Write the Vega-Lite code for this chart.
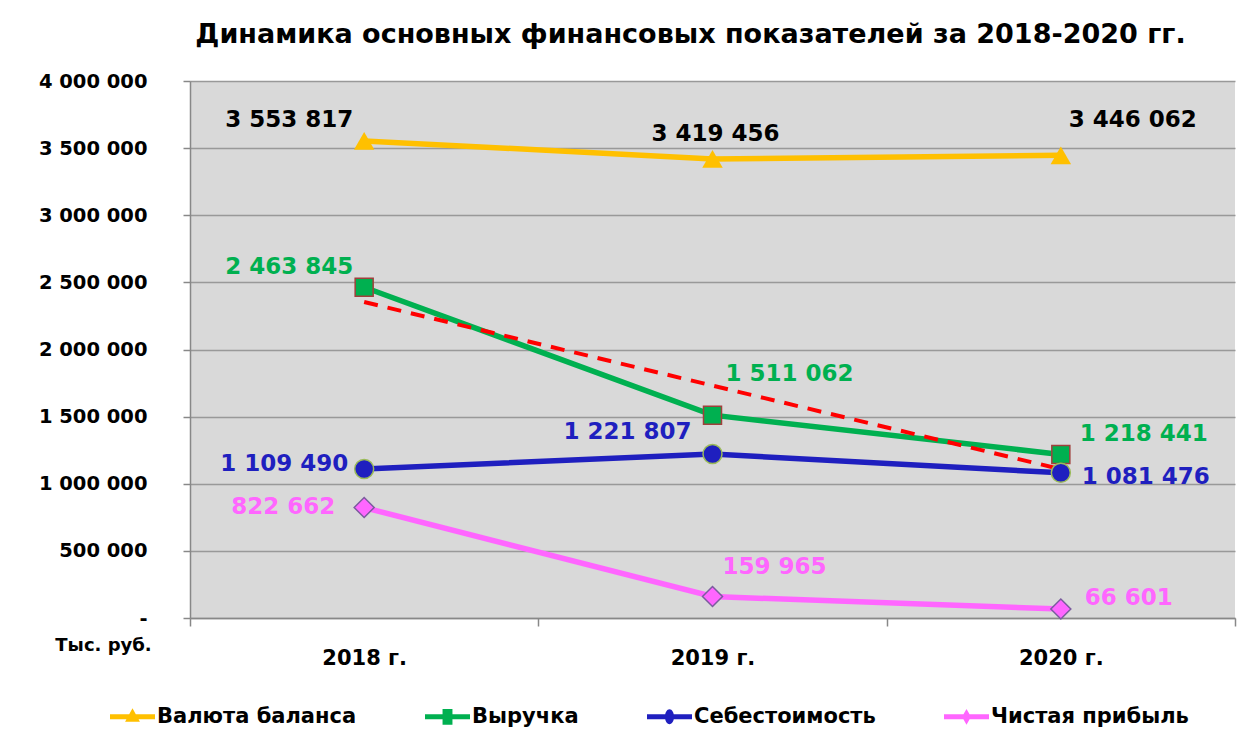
{
  "$schema": "https://vega.github.io/schema/vega-lite/v6.json",
  "width": 1045,
  "height": 537,
  "autosize": "none",
  "padding": {"left": 190, "top": 81, "right": 23, "bottom": 131},
  "background": "white",
  "title": {"text": "Динамика основных финансовых показателей за 2018-2020 гг.", "font": "DejaVu Sans", "fontWeight": "bold", "fontSize": 27, "color": "black", "anchor": "middle", "offset": 22, "dx": -22},
  "config": {"view": {"fill": "#d9d9d9", "stroke": null}, "font": "DejaVu Sans"},
  "datasets": {
    "main": [
      {"year": "2018 г.", "series": "Валюта баланса", "value": 3553817, "label": "3 553 817"},
      {"year": "2019 г.", "series": "Валюта баланса", "value": 3419456, "label": "3 419 456"},
      {"year": "2020 г.", "series": "Валюта баланса", "value": 3446062, "label": "3 446 062"},
      {"year": "2018 г.", "series": "Выручка", "value": 2463845, "label": "2 463 845"},
      {"year": "2019 г.", "series": "Выручка", "value": 1511062, "label": "1 511 062"},
      {"year": "2020 г.", "series": "Выручка", "value": 1218441, "label": "1 218 441"},
      {"year": "2018 г.", "series": "Себестоимость", "value": 1109490, "label": "1 109 490"},
      {"year": "2019 г.", "series": "Себестоимость", "value": 1221807, "label": "1 221 807"},
      {"year": "2020 г.", "series": "Себестоимость", "value": 1081476, "label": "1 081 476"},
      {"year": "2018 г.", "series": "Чистая прибыль", "value": 822662, "label": "822 662"},
      {"year": "2019 г.", "series": "Чистая прибыль", "value": 159965, "label": "159 965"},
      {"year": "2020 г.", "series": "Чистая прибыль", "value": 66601, "label": "66 601"}
    ],
    "trend": [
      {"year": "2018 г.", "value": 2353818},
      {"year": "2020 г.", "value": 1108414}
    ]
  },
  "data": {"name": "main"},
  "encoding": {
    "x": {"field": "year", "type": "nominal",
      "scale": {"type": "band", "domain": ["2018 г.", "2019 г.", "2020 г."], "paddingInner": 0, "paddingOuter": 0},
      "axis": {"title": null, "labelAngle": 0, "domainColor": "#888888", "domainWidth": 1.5, "ticks": true, "tickBand": "extent", "tickSize": 8, "tickColor": "#888888", "tickWidth": 1.5, "labelFont": "DejaVu Sans", "labelFontWeight": "bold", "labelFontSize": 21, "labelColor": "black", "labelPadding": 21, "grid": false}},
    "y": {"field": "value", "type": "quantitative",
      "scale": {"domain": [0, 4000000], "nice": false},
      "axis": {"title": "Тыс. руб.", "titleAngle": 0, "titleX": -87, "titleY": 564, "titleAlign": "center", "titleBaseline": "middle", "titleFont": "DejaVu Sans", "titleFontSize": 18, "titleFontWeight": "bold", "titleColor": "black",
        "values": [0, 500000, 1000000, 1500000, 2000000, 2500000, 3000000, 3500000, 4000000],
        "labelExpr": "datum.value == 0 ? '-\u00a0\u00a0' : join(split(format(datum.value, ','), ','), ' ')",
        "labelFont": "DejaVu Sans", "labelFontSize": 19.5, "labelFontWeight": "bold", "labelColor": "black", "labelPadding": 36,
        "tickSize": 7, "tickColor": "#888888", "tickWidth": 1.5, "domainColor": "#888888", "domainWidth": 1.5, "grid": true, "gridColor": "#999999", "gridWidth": 1.5}}
  },
  "layer": [
    {"transform": [{"filter": "datum.series == 'Валюта баланса'"}], "mark": {"type": "line", "strokeWidth": 5.5, "color": "#FFC000"}, "encoding": {}},
    {"transform": [{"filter": "datum.series == 'Выручка'"}], "mark": {"type": "line", "strokeWidth": 5.5, "color": "#00B050"}, "encoding": {}},
    {"transform": [{"filter": "datum.series == 'Себестоимость'"}], "mark": {"type": "line", "strokeWidth": 5.5, "color": "#1F1FBF"}, "encoding": {}},
    {"transform": [{"filter": "datum.series == 'Чистая прибыль'"}], "mark": {"type": "line", "strokeWidth": 5.5, "color": "#FF66FF"}, "encoding": {}},
    {"data": {"name": "trend"}, "mark": {"type": "line", "color": "#FF0000", "strokeWidth": 4, "strokeDash": [14, 10]}, "encoding": {}},
    {"transform": [{"filter": "datum.series == 'Валюта баланса'"}], "mark": {"type": "point", "shape": "triangle-up", "filled": true, "fill": "#FFC000", "size": 420, "opacity": 1}},
    {"transform": [{"filter": "datum.series == 'Выручка'"}], "mark": {"type": "point", "shape": "square", "filled": true, "fill": "#00B050", "stroke": "#A0403C", "strokeWidth": 1.5, "size": 324, "opacity": 1}},
    {"transform": [{"filter": "datum.series == 'Себестоимость'"}], "mark": {"type": "point", "shape": "circle", "filled": true, "fill": "#1F1FBF", "stroke": "#9BBB59", "strokeWidth": 1.5, "size": 361, "opacity": 1}},
    {"transform": [{"filter": "datum.series == 'Чистая прибыль'"}], "mark": {"type": "point", "shape": "diamond", "filled": true, "fill": "#FF66FF", "stroke": "#7B5C9E", "strokeWidth": 1.5, "size": 400, "opacity": 1}},
    {"mark": {"type": "point", "filled": true, "opacity": 0, "size": 2025},
     "encoding": {
       "color": {"field": "series", "type": "nominal", "scale": {"domain": ["Валюта баланса", "Выручка", "Себестоимость", "Чистая прибыль"], "range": ["#FFC000", "#00B050", "#1F1FBF", "#FF66FF"]},
         "legend": {"title": null, "orient": "none", "direction": "horizontal", "legendX": -80, "legendY": 613, "labelFont": "DejaVu Sans", "labelFontSize": 21, "labelFontWeight": "bold", "labelColor": "black", "symbolSize": 2025, "symbolOpacity": 1, "symbolStrokeWidth": 0, "columnPadding": 68, "labelOffset": 2, "labelLimit": 400}},
       "shape": {"field": "series", "type": "nominal", "scale": {"domain": ["Валюта баланса", "Выручка", "Себестоимость", "Чистая прибыль"], "range": [
         "M-1,-0.11H1V0.11H-1Z M0,-0.38L0.33,0.22L-0.33,0.22Z",
         "M-1,-0.11H1V0.11H-1Z M-0.22,-0.35H0.22V0.35H-0.22Z",
         "M-1,-0.11H1V0.11H-1Z M-0.2,0A0.2,0.33 0 1,1 0.2,0A0.2,0.33 0 1,1 -0.2,0Z",
         "M-1,-0.11H1V0.11H-1Z M0,-0.35L0.2,0L0,0.35L-0.2,0Z"]},
         "legend": {"title": null, "orient": "none", "direction": "horizontal", "legendX": -80, "legendY": 613, "labelFont": "DejaVu Sans", "labelFontSize": 21, "labelFontWeight": "bold", "labelColor": "black", "symbolSize": 2025, "symbolOpacity": 1, "symbolStrokeWidth": 0, "columnPadding": 68, "labelOffset": 2, "labelLimit": 400}}
     }},
    {"transform": [{"filter": "datum.series == 'Валюта баланса' && datum.year == '2018 г.'"}], "mark": {"type": "text", "dx": -75, "dy": -21, "align": "center", "baseline": "middle", "font": "DejaVu Sans", "fontSize": 23, "fontWeight": "bold", "color": "black"}, "encoding": {"text": {"field": "label"}}},
    {"transform": [{"filter": "datum.series == 'Валюта баланса' && datum.year == '2019 г.'"}], "mark": {"type": "text", "dx": 3, "dy": -25, "align": "center", "baseline": "middle", "font": "DejaVu Sans", "fontSize": 23, "fontWeight": "bold", "color": "black"}, "encoding": {"text": {"field": "label"}}},
    {"transform": [{"filter": "datum.series == 'Валюта баланса' && datum.year == '2020 г.'"}], "mark": {"type": "text", "dx": 72, "dy": -35, "align": "center", "baseline": "middle", "font": "DejaVu Sans", "fontSize": 23, "fontWeight": "bold", "color": "black"}, "encoding": {"text": {"field": "label"}}},
    {"transform": [{"filter": "datum.series == 'Выручка' && datum.year == '2018 г.'"}], "mark": {"type": "text", "dx": -75, "dy": -20, "align": "center", "baseline": "middle", "font": "DejaVu Sans", "fontSize": 23, "fontWeight": "bold", "color": "#00B050"}, "encoding": {"text": {"field": "label"}}},
    {"transform": [{"filter": "datum.series == 'Выручка' && datum.year == '2019 г.'"}], "mark": {"type": "text", "dx": 77, "dy": -41, "align": "center", "baseline": "middle", "font": "DejaVu Sans", "fontSize": 23, "fontWeight": "bold", "color": "#00B050"}, "encoding": {"text": {"field": "label"}}},
    {"transform": [{"filter": "datum.series == 'Выручка' && datum.year == '2020 г.'"}], "mark": {"type": "text", "dx": 83, "dy": -20, "align": "center", "baseline": "middle", "font": "DejaVu Sans", "fontSize": 23, "fontWeight": "bold", "color": "#00B050"}, "encoding": {"text": {"field": "label"}}},
    {"transform": [{"filter": "datum.series == 'Себестоимость' && datum.year == '2018 г.'"}], "mark": {"type": "text", "dx": -80, "dy": -5, "align": "center", "baseline": "middle", "font": "DejaVu Sans", "fontSize": 23, "fontWeight": "bold", "color": "#1F1FBF"}, "encoding": {"text": {"field": "label"}}},
    {"transform": [{"filter": "datum.series == 'Себестоимость' && datum.year == '2019 г.'"}], "mark": {"type": "text", "dx": -85, "dy": -22, "align": "center", "baseline": "middle", "font": "DejaVu Sans", "fontSize": 23, "fontWeight": "bold", "color": "#1F1FBF"}, "encoding": {"text": {"field": "label"}}},
    {"transform": [{"filter": "datum.series == 'Себестоимость' && datum.year == '2020 г.'"}], "mark": {"type": "text", "dx": 85, "dy": 4, "align": "center", "baseline": "middle", "font": "DejaVu Sans", "fontSize": 23, "fontWeight": "bold", "color": "#1F1FBF"}, "encoding": {"text": {"field": "label"}}},
    {"transform": [{"filter": "datum.series == 'Чистая прибыль' && datum.year == '2018 г.'"}], "mark": {"type": "text", "dx": -81, "dy": -1, "align": "center", "baseline": "middle", "font": "DejaVu Sans", "fontSize": 23, "fontWeight": "bold", "color": "#FF66FF"}, "encoding": {"text": {"field": "label"}}},
    {"transform": [{"filter": "datum.series == 'Чистая прибыль' && datum.year == '2019 г.'"}], "mark": {"type": "text", "dx": 62, "dy": -30, "align": "center", "baseline": "middle", "font": "DejaVu Sans", "fontSize": 23, "fontWeight": "bold", "color": "#FF66FF"}, "encoding": {"text": {"field": "label"}}},
    {"transform": [{"filter": "datum.series == 'Чистая прибыль' && datum.year == '2020 г.'"}], "mark": {"type": "text", "dx": 68, "dy": -11, "align": "center", "baseline": "middle", "font": "DejaVu Sans", "fontSize": 23, "fontWeight": "bold", "color": "#FF66FF"}, "encoding": {"text": {"field": "label"}}}
  ]
}
